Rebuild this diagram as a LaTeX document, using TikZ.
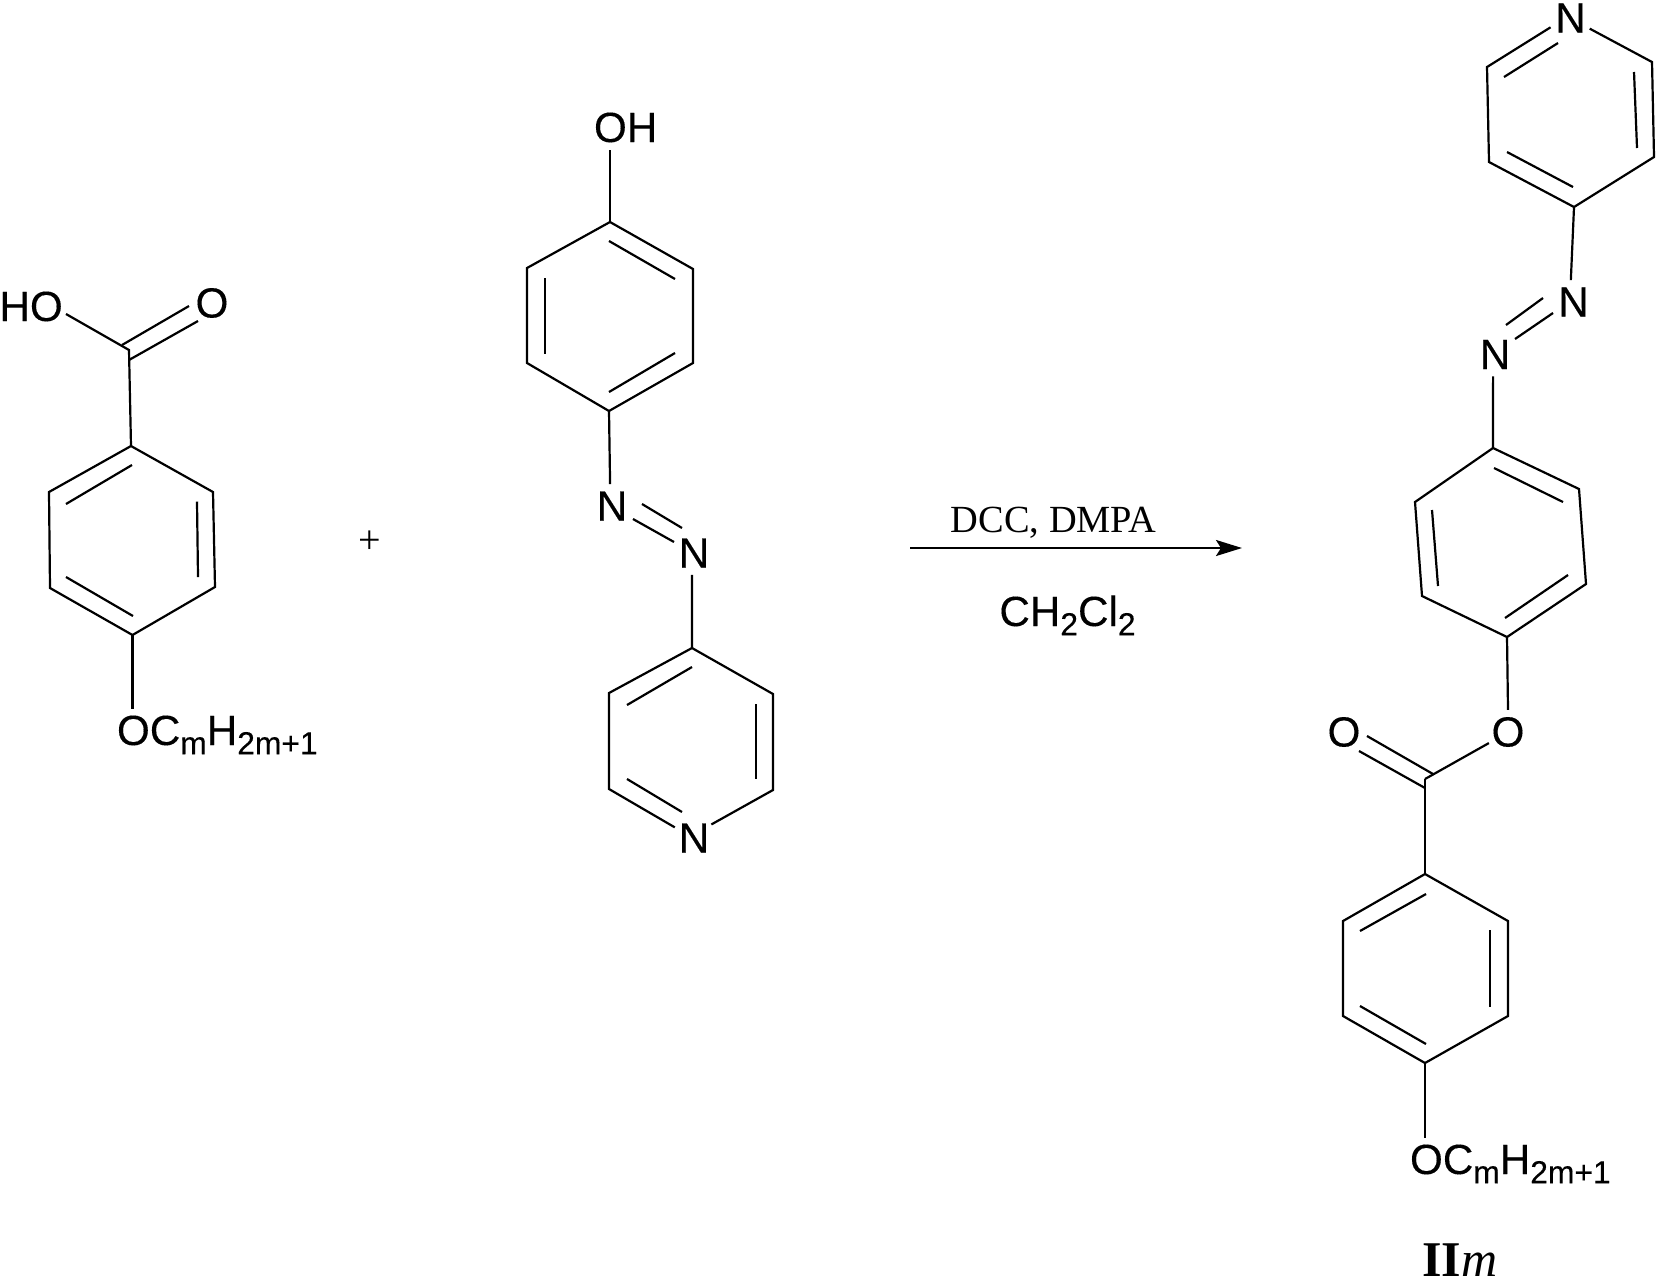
\documentclass[tikz,border=0pt]{standalone}
\usepackage{fontspec}
\setmainfont{Liberation Sans}[FakeBold=0.25]
\newfontfamily\chemserif{Liberation Serif}
\usetikzlibrary{arrows.meta}
\newcommand{\atomfont}{\addfontfeatures{FakeBold=0.25}\fontsize{21.1}{25}\selectfont}
\newcommand{\lowsub}[1]{\raisebox{-4.6pt}{\fontsize{15.9}{18}\selectfont #1}}
\tikzset{
  bond/.style={draw=black,line width=1.1pt,line join=miter,line cap=butt},
  atom/.style={circle,inner sep=0pt,outer sep=0pt,minimum size=22pt,font=\atomfont},
  grouplabel/.style={anchor=base west,inner xsep=0pt,inner ysep=3.3pt,outer sep=0pt,font=\atomfont},
  reaction/.style={draw=black,line width=1.1pt,-{Stealth[length=13pt,width=8pt,inset=2.5pt]}}
}
\begin{document}
\begin{tikzpicture}[x=0.5pt,y=-0.5pt]
\useasboundingbox (0,0) rectangle (1658,1281);
\fill[white] (0,0) rectangle (1658,1281);

% ---------- left acid
\coordinate (ac) at (129,350);
\coordinate (a1) at (131,446);
\coordinate (a2) at (213,492);
\coordinate (a3) at (215,587);
\coordinate (a4) at (132.5,635);
\coordinate (a5) at (50,588);
\coordinate (a6) at (49,492);
\coordinate (hoend) at (66,314);
\node[grouplabel] (HO) at (-0.5,321) {HO};
\node[atom] (Oa) at (212,303) {O};
\node[grouplabel] (OCa) at (117,745) {OC\lowsub{m}H\lowsub{2m+1}};
\draw[bond] (a1)--(a2)--(a3)--(a4)--(a5)--(a6)--cycle;
\draw[bond] (hoend)--(ac)--(a1);
\draw[bond] (a4)--(a4 |- OCa.north);
\coordinate (ad1) at (122,345); \coordinate (ad2) at (189,306);
\coordinate (ad3) at (129,360); \coordinate (ad4) at (198,321);
\draw[bond] (ad1)--(ad2);
\draw[bond] (ad3)--(ad4);
\coordinate (ai1) at (132,465); \coordinate (ai2) at (66,504);
\coordinate (ai3) at (197,501.5); \coordinate (ai4) at (198,577);
\coordinate (ai5) at (66,577);  \coordinate (ai6) at (133,616);
\draw[bond] (ai1)--(ai2);
\draw[bond] (ai3)--(ai4);
\draw[bond] (ai5)--(ai6);

\node[anchor=base,inner sep=0pt,font=\chemserif\fontsize{20}{24}\selectfont] (plus) at (370,553) {+};

% ---------- middle azo phenol
\node[grouplabel,inner ysep=4pt] (OH) at (594,142) {OH};
\coordinate (b1) at (610,222);
\coordinate (b2) at (693,269);
\coordinate (b3) at (693,363);
\coordinate (b4) at (609,411);
\coordinate (b5) at (527,363);
\coordinate (b6) at (527,268);
\draw[bond] (b1)--(b2)--(b3)--(b4)--(b5)--(b6)--cycle;
\draw[bond] (b1)--(b1 |- OH.south);
\coordinate (bi1) at (609,241); \coordinate (bi2) at (675,279);
\coordinate (bi3) at (545,278); \coordinate (bi4) at (545,354);
\coordinate (bi5) at (609,392); \coordinate (bi6) at (675,353);
\draw[bond] (bi1)--(bi2);
\draw[bond] (bi3)--(bi4);
\draw[bond] (bi5)--(bi6);
\node[atom] (Nb1) at (612,506) {N};
\node[atom] (Nb2) at (694,553) {N};
\draw[bond] (b4)--(Nb1.95);
\coordinate (bn1) at (642,504); \coordinate (bn2) at (682,528);
\coordinate (bn3) at (633,519); \coordinate (bn4) at (674,542);
\draw[bond] (bn1)--(bn2);
\draw[bond] (bn3)--(bn4);
\coordinate (p1) at (692,648);
\coordinate (p2) at (773,694);
\coordinate (p3) at (773,790);
\coordinate (p5) at (609,789);
\coordinate (p6) at (609,693);
\node[atom] (Nb3) at (694,838) {N};
\draw[bond] (Nb2.265)--(p1);
\draw[bond] (Nb3.38)--(p3)--(p2)--(p1)--(p6)--(p5)--(Nb3.151);
\coordinate (pi1) at (692,667); \coordinate (pi2) at (627,705);
\coordinate (pi3) at (756,704); \coordinate (pi4) at (756,779);
\coordinate (pi5) at (627,779); \coordinate (pi6) at (682,812);
\draw[bond] (pi1)--(pi2);
\draw[bond] (pi3)--(pi4);
\draw[bond] (pi5)--(pi6);

% ---------- reaction arrow
\coordinate (arrS) at (910,548);
\coordinate (arrE) at (1242,548);
\draw[reaction] (arrS)--(arrE);
\node[anchor=base west,inner sep=0pt,font=\chemserif\fontsize{19.2}{22}\selectfont] (reag) at (950.5,532) {DCC, DMPA};
\node[anchor=base west,inner sep=0pt,font=\atomfont] (solv) at (999,626) {CH\lowsub{2}Cl\lowsub{2}};

% ---------- product
\node[atom] (Nc0) at (1570.5,18) {N};
\coordinate (q2) at (1652,62);
\coordinate (q3) at (1654,157);
\coordinate (q4) at (1574,207);
\coordinate (q5) at (1489,162);
\coordinate (q6) at (1487,67);
\draw[bond] (Nc0.331)--(q2)--(q3)--(q4)--(q5)--(q6)--(Nc0.205);
\coordinate (qi1) at (1558,43);  \coordinate (qi2) at (1504,77);
\coordinate (qi3) at (1634,72);  \coordinate (qi4) at (1637,148);
\coordinate (qi5) at (1507,152); \coordinate (qi6) at (1573,187);
\draw[bond] (qi1)--(qi2);
\draw[bond] (qi3)--(qi4);
\draw[bond] (qi5)--(qi6);
\node[atom] (Nc1) at (1573.5,302) {N};
\node[atom] (Nc2) at (1495,354.5) {N};
\draw[bond] (q4)--(Nc1.97);
\coordinate (cn1) at (1543,298); \coordinate (cn2) at (1506,325);
\coordinate (cn3) at (1553,313); \coordinate (cn4) at (1515,339);
\draw[bond] (cn1)--(cn2);
\draw[bond] (cn3)--(cn4);
\coordinate (r1) at (1493,448);
\coordinate (r2) at (1579,489);
\coordinate (r3) at (1586,584);
\coordinate (r4) at (1507,637);
\coordinate (r5) at (1422,596);
\coordinate (r6) at (1415,502);
\draw[bond] (r1)--(r2)--(r3)--(r4)--(r5)--(r6)--cycle;
\draw[bond] (Nc2.265)--(r1);
\coordinate (ri1) at (1494,468); \coordinate (ri2) at (1563,502);
\coordinate (ri3) at (1432,510); \coordinate (ri4) at (1438,586);
\coordinate (ri5) at (1505,618); \coordinate (ri6) at (1568,575);
\draw[bond] (ri1)--(ri2);
\draw[bond] (ri3)--(ri4);
\draw[bond] (ri5)--(ri6);
\node[atom] (Oe) at (1508,732) {O};
\node[atom] (Oc) at (1344,732) {O};
\coordinate (ec) at (1425,779);
\draw[bond] (r4)--(Oe.90);
\draw[bond] (Oe.210)--(ec);
\coordinate (ed1) at (1367,736); \coordinate (ed2) at (1433,774);
\coordinate (ed3) at (1359,751); \coordinate (ed4) at (1425,788);
\draw[bond] (ed1)--(ed2);
\draw[bond] (ed3)--(ed4);
\coordinate (s1) at (1425,874);
\coordinate (s2) at (1508,921);
\coordinate (s3) at (1508,1016);
\coordinate (s4) at (1425,1063);
\coordinate (s5) at (1343,1016);
\coordinate (s6) at (1343,921);
\draw[bond] (ec)--(s1);
\draw[bond] (s1)--(s2)--(s3)--(s4)--(s5)--(s6)--cycle;
\coordinate (si1) at (1426,894); \coordinate (si2) at (1360,931);
\coordinate (si3) at (1490,930); \coordinate (si4) at (1490,1007);
\coordinate (si5) at (1360,1006); \coordinate (si6) at (1426,1044);
\draw[bond] (si1)--(si2);
\draw[bond] (si3)--(si4);
\draw[bond] (si5)--(si6);
\node[grouplabel] (OCb) at (1410,1174) {OC\lowsub{m}H\lowsub{2m+1}};
\draw[bond] (s4)--(s4 |- OCb.north);
\node[anchor=base west,inner sep=0pt,font=\chemserif\fontsize{25}{30}\selectfont] (name) at (1422,1276) {\textbf{II}\textit{m}};
\end{tikzpicture}
\end{document}
